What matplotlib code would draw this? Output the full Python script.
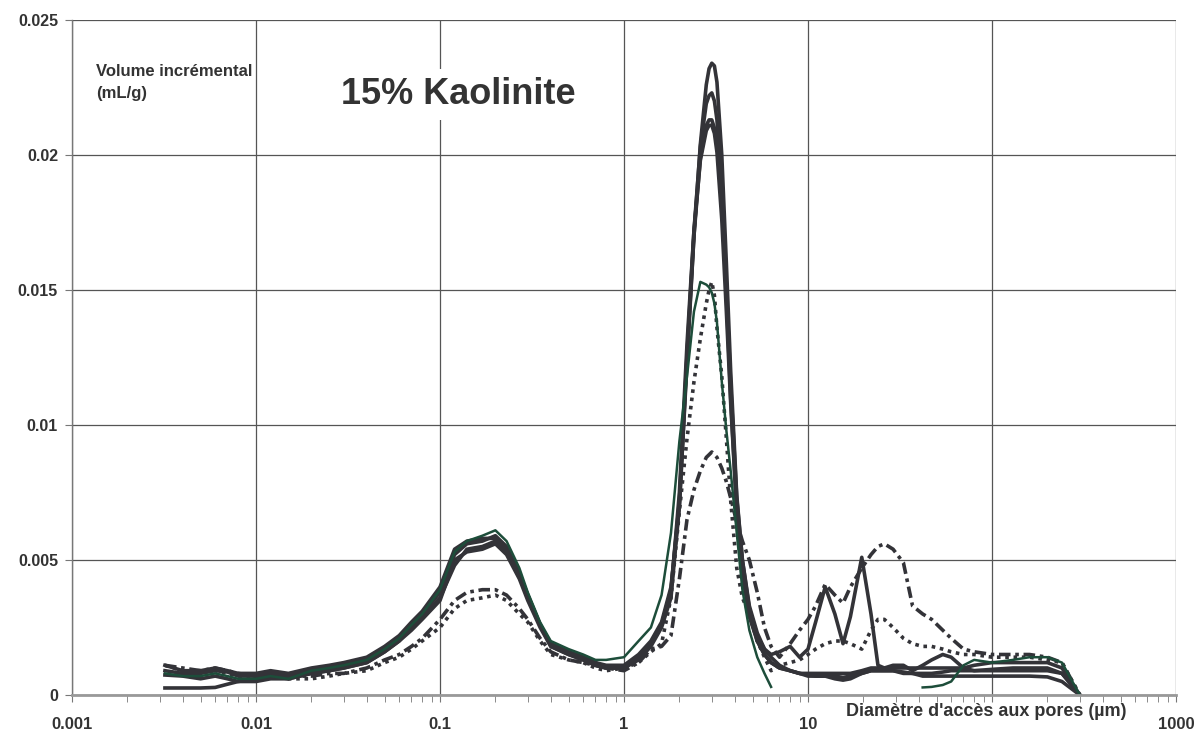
import numpy as np
import matplotlib.pyplot as plt
from matplotlib.ticker import LogLocator, NullFormatter

plt.rcParams['font.family'] = ['Liberation Sans', 'DejaVu Sans']
plt.rcParams['font.weight'] = 'bold'

nan = np.nan

# pore access diameter (µm)
diam = [0.0032, 0.004, 0.005, 0.006, 0.007, 0.008, 0.01, 0.012, 0.015, 0.02,
        0.025, 0.03, 0.04, 0.05, 0.06, 0.07, 0.08, 0.1, 0.12, 0.14,
        0.17, 0.2, 0.23, 0.27, 0.3, 0.35, 0.4, 0.5, 0.6, 0.7,
        0.8, 1.0, 1.2, 1.4, 1.6, 1.8, 2.0, 2.2, 2.4, 2.6,
        2.8, 2.9, 3.0, 3.1, 3.2, 3.4, 3.6, 3.8, 4.1, 4.4, 4.8, 5.3,
        5.8, 6.3, 7, 8, 9, 10, 11, 12.4, 14, 15.5,
        17, 19.6, 22, 24, 26, 29, 33, 37, 42, 47,
        54, 60, 70, 80, 100, 130, 160, 200, 240, 300]

# incremental volume (mL/g), solid dark curves
solid_a = [0.0009, 0.0008, 0.0008, 0.0009, 0.00085, 0.0007, 0.0007, 0.0008, 0.0007, 0.0009,
           0.001, 0.0011, 0.0013, 0.0017, 0.0021, 0.0026, 0.003, 0.0038, 0.0052, 0.0056,
           0.0057, 0.0059, 0.0055, 0.0045, 0.0037, 0.0026, 0.0019, 0.0016, 0.0014, 0.0012,
           0.0011, 0.0011, 0.0015, 0.002, 0.0027, 0.0040, 0.0070, 0.0123, 0.0170, 0.0204,
           0.0226, 0.0232, 0.0234, 0.0233, 0.0227, 0.0200, 0.0160, 0.0120, 0.0074, 0.0050, 0.0032, 0.0022,
           0.0017, 0.0014, 0.0011, 0.0009, 0.0008, 0.00075, 0.0007, 0.0007, 0.0007, 0.00065,
           0.0007, 0.0008, 0.0009, 0.0009, 0.0009, 0.0009, 0.00085, 0.0008, 0.0008, 0.0008,
           0.00085, 0.0009, 0.0009, 0.0009, 0.00095, 0.001, 0.001, 0.001, 0.0008, 0.0]
solid_b = [0.0011, 0.0009, 0.0009, 0.001, 0.0009, 0.0008, 0.0008, 0.0009, 0.0008, 0.001,
           0.0011, 0.0012, 0.0014, 0.0018, 0.0022, 0.0027, 0.0031, 0.004, 0.0054, 0.0057,
           0.0058, 0.0058, 0.0054, 0.0045, 0.0037, 0.0026, 0.0018, 0.0015, 0.0013, 0.0011,
           0.001, 0.001, 0.0014, 0.0019, 0.0026, 0.0039, 0.0072, 0.0126, 0.0172, 0.0203,
           0.0219, 0.0222, 0.0223, 0.0220, 0.0213, 0.0186, 0.0148, 0.0110, 0.0068, 0.0045, 0.0029, 0.0020,
           0.0015, 0.0012, 0.001, 0.0009, 0.0008, 0.0008, 0.0008, 0.0008, 0.0008, 0.0008,
           0.0008, 0.0009, 0.001, 0.001, 0.001, 0.001, 0.001, 0.001, 0.001, 0.001,
           0.001, 0.001, 0.001, 0.0011, 0.0012, 0.0012, 0.0012, 0.0012, 0.001, 0.0]
solid_c = [0.00074, 0.0007, 0.0006, 0.0007, 0.0006, 0.0005, 0.0006, 0.0007, 0.0006, 0.0008,
           0.0009, 0.001, 0.0012, 0.0016, 0.002, 0.0024, 0.0028, 0.0035, 0.005, 0.0053,
           0.0054, 0.0056, 0.0052, 0.0043, 0.0035, 0.0025, 0.0018, 0.0015, 0.0013, 0.0011,
           0.001, 0.001, 0.0014, 0.0019, 0.0026, 0.0038, 0.0075, 0.0130, 0.0172, 0.0198,
           0.0209, 0.0211, 0.0211, 0.0208, 0.0201, 0.0176, 0.0142, 0.0108, 0.0068, 0.0045, 0.0030, 0.0020,
           0.0015, 0.0012, 0.001, 0.0009, 0.0008, 0.0007, 0.0007, 0.0007, 0.0006, 0.00055,
           0.0006, 0.0008, 0.0009, 0.0009, 0.0009, 0.0009, 0.0008, 0.0008, 0.0007, 0.0007,
           0.0007, 0.0007, 0.0007, 0.0007, 0.0007, 0.0007, 0.0007, 0.00067, 0.0005, 0.0]
solid_d = [0.00026, 0.00026, 0.00026, 0.00028, 0.0004, 0.0005, 0.0005, 0.0006, 0.0006, 0.0008,
           0.0009, 0.001, 0.0012, 0.0016, 0.002, 0.0025, 0.0029, 0.0036, 0.0048, 0.0054,
           0.0055, 0.0057, 0.0053, 0.0044, 0.0036, 0.0026, 0.0019, 0.0016, 0.0014, 0.0012,
           0.001, 0.001, 0.0013, 0.0018, 0.0025, 0.0036, 0.0070, 0.0125, 0.0170, 0.0199,
           0.0211, 0.0213, 0.0213, 0.0210, 0.0205, 0.0182, 0.0150, 0.0115, 0.0073, 0.0050, 0.0033, 0.0023,
           0.0017, 0.0015, 0.0016, 0.0018, 0.0014, 0.0017, 0.0027, 0.0040, 0.003, 0.0019,
           0.0029, 0.0051, 0.0030, 0.0011, 0.001, 0.0011, 0.0011, 0.0009, 0.0011, 0.0013,
           0.0015, 0.0014, 0.001, 0.0009, 0.0009, 0.0009, 0.0009, 0.0009, 0.0008, 0.0]
green_run = [0.0008, 0.0007, 0.0007, 0.0008, 0.0007, 0.0006, 0.0006, 0.0007, 0.0006, 0.0009,
             0.001, 0.0011, 0.0013, 0.0017, 0.0021, 0.0026, 0.003, 0.0039, 0.0053, 0.0057,
             0.0059, 0.0061, 0.0057, 0.0047, 0.0038, 0.0027, 0.002, 0.0017, 0.0015, 0.0013,
             0.0013, 0.0014, 0.002, 0.0025, 0.0037, 0.006, 0.0094, 0.0118, 0.0142, 0.0153,
             0.0152, 0.0151, 0.0149, 0.0145, 0.0138, 0.0116, 0.0098, 0.0083, 0.006, 0.0039, 0.0024, 0.0014,
             0.0008, 0.0003, nan, nan, nan, nan, nan, nan, nan, nan,
             nan, nan, nan, nan, nan, nan, nan, nan, 0.00028, 0.0003,
             0.00037, 0.0005, 0.0011, 0.0013, 0.0012, 0.0013, 0.0014, 0.0014, 0.0012, 0.0]
dotted_run = [0.0011, 0.0009, 0.0009, 0.0009, 0.0008, 0.0007, 0.0007, 0.0007, 0.0006, 0.0006,
              0.0007, 0.0008, 0.0009, 0.0012, 0.0014, 0.0017, 0.002, 0.0025, 0.0032, 0.0035,
              0.0036, 0.0037, 0.0035, 0.003, 0.0027, 0.002, 0.0015, 0.0013, 0.0012, 0.001,
              0.0009, 0.001, 0.0012, 0.0016, 0.0019, 0.0036, 0.0068, 0.0095, 0.0116, 0.0132,
              0.0145, 0.0150, 0.0153, 0.0148, 0.0136, 0.0118, 0.0095, 0.0072, 0.0047, 0.0036, 0.003, 0.002,
              0.0014, 0.0009, 0.0011, 0.0012, 0.0013, 0.0015, 0.0017, 0.0019, 0.002, 0.002,
              0.0019, 0.0017, 0.0024, 0.0028, 0.0028, 0.0025, 0.0021, 0.0019, 0.0018, 0.0018,
              0.0017, 0.0016, 0.0015, 0.0015, 0.0014, 0.0014, 0.0014, 0.0013, 0.0012, 0.0]
dashdot_run = [0.0011, 0.001, 0.0009, 0.001, 0.0009, 0.0008, 0.0007, 0.0007, 0.0007, 0.0007,
               0.0008, 0.0008, 0.001, 0.0013, 0.0015, 0.0018, 0.0021, 0.0028, 0.0035, 0.0038,
               0.0039, 0.0039, 0.0037, 0.0032, 0.0028, 0.0021, 0.0016, 0.0013, 0.0012, 0.0011,
               0.001, 0.0009, 0.0012, 0.0017, 0.0018, 0.0022, 0.0043, 0.0065, 0.0076, 0.0083,
               0.0088, 0.0089, 0.009, 0.0089, 0.0088, 0.0084, 0.0079, 0.0073, 0.0064, 0.0057, 0.005, 0.0038,
               0.0025, 0.0018, 0.0014, 0.0019, 0.0024, 0.0028, 0.0033, 0.0041, 0.0037, 0.0034,
               0.004, 0.0047, 0.0052, 0.0055, 0.0056, 0.0054, 0.0049, 0.0033, 0.003, 0.0028,
               0.0024, 0.0021, 0.0017, 0.0016, 0.0015, 0.0015, 0.0015, 0.0014, 0.0012, 0.0]

xticks = [0.001, 0.01, 0.1, 1, 10, 100, 1000]
xticklabels = ['0.001', '0.01', '0.1', '1', '10', '', '1000']
yticks = [0, 0.005, 0.01, 0.015, 0.02, 0.025]
yticklabels = ['0', '0.005', '0.01', '0.015', '0.02', '0.025']

dark = '#333338'
green = '#1d4d3a'
text_col = '#333333'

fig = plt.figure(figsize=(11.97, 7.31), dpi=100)
ax = fig.add_axes([72 / 1197, 36 / 731, 1104 / 1197, 675 / 731])

for ys in (solid_a, solid_b, solid_c, solid_d):
    ax.plot(diam, ys, color=dark, lw=2.6, solid_joinstyle='round')
ax.plot(diam, dotted_run, color=dark, lw=2.6, linestyle=(0, (1, 1.3)))
ax.plot(diam, dashdot_run, color=dark, lw=2.6, linestyle=(0, (3.2, 1.3, 1, 1.3)))
ax.plot(diam, green_run, color=green, lw=1.8)

ax.set_xscale('log')
ax.set_xlim(0.001, 1000)
ax.set_ylim(0, 0.025)
ax.set_xticks(xticks)
ax.set_xticklabels(xticklabels)
ax.xaxis.set_minor_locator(LogLocator(base=10, subs=np.arange(2, 10)))
ax.xaxis.set_minor_formatter(NullFormatter())
ax.set_yticks(yticks)
ax.set_yticklabels(yticklabels)

ax.set_axisbelow(True)
ax.grid(True, which='major', color='#555555', lw=0.9)
for side in ('top', 'right'):
    ax.spines[side].set_visible(False)
ax.spines['left'].set_color('#777777')
ax.spines['left'].set_linewidth(1)
ax.spines['bottom'].set_color('#999999')
ax.spines['bottom'].set_linewidth(2)

ax.tick_params(axis='x', which='both', direction='out', length=5, color='#777777',
               labelsize=12, pad=11, labelcolor=text_col)
ax.tick_params(axis='y', direction='out', length=5, color='#777777',
               labelsize=11.5, pad=5, labelcolor=text_col)

fig.text(96 / 1197, 1 - 64 / 731, 'Volume incrémental\n(mL/g)', ha='left', va='top',
         fontsize=12, color=text_col, linespacing=1.55)
fig.text(341 / 1197, 1 - 104 / 731, '15% Kaolinite', ha='left', va='baseline',
         fontsize=26, color=text_col,
         bbox=dict(facecolor='white', edgecolor='none', pad=6))
fig.text(846 / 1197, 1 - 711 / 731, "Diamètre d'accès aux pores (µm)", ha='left',
         va='center', fontsize=13, color=text_col)

fig.savefig('out.png', dpi=100)
